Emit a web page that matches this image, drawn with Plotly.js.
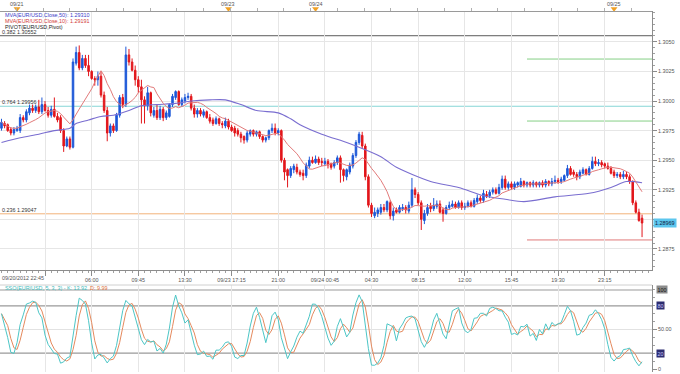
<!DOCTYPE html>
<html><head><meta charset="utf-8">
<script src="https://cdn.plot.ly/plotly-3.0.1.min.js"></script>
<style>html,body{margin:0;padding:0;background:#fff}#chart{width:680px;height:374px}</style>
</head><body><div id="chart"></div>
<script>
// ---- data (EUR/USD 15-minute bars) ----
const openP = [1.2977,1.2981,1.2980,1.2976,1.2973,1.2975,1.2975,1.2986,1.2984,1.2990,
1.2994,1.2992,1.2995,1.2991,1.2997,1.2992,1.2988,1.2993,1.2987,1.2986,
1.2975,1.2962,1.2968,1.2961,1.3032,1.3041,1.3028,1.3036,1.3030,1.3025,
1.3019,1.3018,1.3021,1.3005,1.2992,1.2973,1.2979,1.2975,1.2988,1.3003,
1.2997,1.3039,1.3033,1.3026,1.3018,1.3012,1.3001,1.2996,1.3007,1.2988,
1.2992,1.2986,1.2993,1.2986,1.2987,1.2997,1.3003,1.3008,1.2997,1.3000,
1.3003,1.3004,1.2994,1.2989,1.2992,1.2988,1.2991,1.2986,1.2984,1.2981,
1.2985,1.2981,1.2979,1.2983,1.2978,1.2977,1.2975,1.2972,1.2970,1.2967,
1.2972,1.2975,1.2972,1.2974,1.2970,1.2967,1.2969,1.2975,1.2977,1.2973,
1.2975,1.2950,1.2942,1.2937,1.2942,1.2944,1.2940,1.2939,1.2937,1.2945,
1.2950,1.2948,1.2951,1.2949,1.2947,1.2949,1.2947,1.2945,1.2948,1.2952,
1.2942,1.2936,1.2940,1.2945,1.2954,1.2965,1.2971,1.2962,1.2936,1.2912,
1.2903,1.2905,1.2906,1.2910,1.2908,1.2914,1.2903,1.2908,1.2906,1.2909,
1.2910,1.2907,1.2912,1.2925,1.2921,1.2914,1.2899,1.2905,1.2911,1.2909,
1.2911,1.2913,1.2908,1.2905,1.2910,1.2911,1.2913,1.2910,1.2914,1.2910,
1.2911,1.2914,1.2911,1.2915,1.2918,1.2916,1.2921,1.2920,1.2923,1.2925,
1.2922,1.2927,1.2934,1.2927,1.2930,1.2927,1.2929,1.2928,1.2932,1.2929,
1.2931,1.2929,1.2931,1.2929,1.2931,1.2929,1.2932,1.2930,1.2932,1.2933,
1.2932,1.2933,1.2937,1.2943,1.2940,1.2938,1.2936,1.2939,1.2942,1.2938,
1.2943,1.2949,1.2947,1.2948,1.2947,1.2945,1.2943,1.2940,1.2937,1.2938,
1.2936,1.2938,1.2936,1.2932,1.2914,1.2906,1.2901];
const highP = [1.2985,1.2983,1.2981,1.2978,1.2978,1.2979,1.2989,1.2988,1.2993,1.2997,
1.2997,1.2997,1.3001,1.3003,1.3000,1.2995,1.2996,1.3003,1.2990,1.2988,
1.2977,1.2970,1.2970,1.3036,1.3046,1.3047,1.3039,1.3039,1.3039,1.3026,
1.3021,1.3025,1.3025,1.3008,1.2995,1.2981,1.2981,1.2990,1.3005,1.3006,
1.3046,1.3044,1.3036,1.3030,1.3021,1.3018,1.3004,1.3012,1.3008,1.2995,
1.2997,1.2996,1.2995,1.2992,1.2998,1.3006,1.3009,1.3009,1.3003,1.3006,
1.3007,1.3006,1.2997,1.2994,1.2994,1.2993,1.2992,1.2989,1.2986,1.2987,
1.2986,1.2983,1.2986,1.2985,1.2980,1.2979,1.2977,1.2974,1.2971,1.2975,
1.2976,1.2976,1.2975,1.2975,1.2971,1.2970,1.2976,1.2981,1.2981,1.2977,
1.2976,1.2952,1.2943,1.2945,1.2947,1.2947,1.2942,1.2942,1.2948,1.2953,
1.2953,1.2954,1.2953,1.2952,1.2952,1.2951,1.2948,1.2950,1.2954,1.2954,
1.2943,1.2943,1.2948,1.2956,1.2967,1.2974,1.2974,1.2964,1.2938,1.2914,
1.2910,1.2910,1.2913,1.2913,1.2916,1.2916,1.2910,1.2910,1.2912,1.2913,
1.2912,1.2915,1.2935,1.2927,1.2923,1.2916,1.2908,1.2913,1.2914,1.2918,
1.2916,1.2916,1.2910,1.2912,1.2915,1.2916,1.2915,1.2916,1.2916,1.2914,
1.2916,1.2916,1.2918,1.2921,1.2920,1.2925,1.2924,1.2925,1.2927,1.2927,
1.2930,1.2937,1.2937,1.2932,1.2932,1.2932,1.2932,1.2935,1.2933,1.2932,
1.2932,1.2933,1.2932,1.2932,1.2933,1.2934,1.2933,1.2935,1.2937,1.2935,
1.2936,1.2938,1.2946,1.2945,1.2942,1.2940,1.2942,1.2944,1.2943,1.2945,
1.2953,1.2953,1.2951,1.2950,1.2948,1.2948,1.2945,1.2942,1.2940,1.2940,
1.2941,1.2940,1.2938,1.2933,1.2916,1.2909,1.2904];
const lowP = [1.2975,1.2977,1.2974,1.2971,1.2971,1.2974,1.2973,1.2982,1.2982,1.2988,
1.2990,1.2990,1.2989,1.2989,1.2991,1.2986,1.2986,1.2986,1.2982,1.2973,
1.2957,1.2961,1.2959,1.2960,1.3030,1.3026,1.3026,1.3028,1.3021,1.3018,
1.3013,1.3013,1.3003,1.2990,1.2966,1.2970,1.2973,1.2974,1.2986,1.2994,
1.2995,1.3030,1.3025,1.3013,1.3007,1.2981,1.2981,1.2992,1.2987,1.2986,
1.2984,1.2984,1.2983,1.2984,1.2986,1.2995,1.3001,1.2996,1.2995,1.2998,
1.3001,1.2992,1.2986,1.2986,1.2987,1.2986,1.2985,1.2981,1.2979,1.2980,
1.2979,1.2977,1.2977,1.2976,1.2974,1.2970,1.2970,1.2965,1.2964,1.2965,
1.2970,1.2970,1.2970,1.2968,1.2965,1.2965,1.2967,1.2973,1.2971,1.2971,
1.2948,1.2933,1.2927,1.2935,1.2939,1.2938,1.2936,1.2933,1.2935,1.2943,
1.2947,1.2947,1.2946,1.2945,1.2945,1.2943,1.2942,1.2943,1.2946,1.2931,
1.2932,1.2933,1.2938,1.2943,1.2952,1.2963,1.2960,1.2933,1.2910,1.2902,
1.2901,1.2902,1.2904,1.2906,1.2906,1.2900,1.2899,1.2905,1.2905,1.2907,
1.2905,1.2905,1.2910,1.2918,1.2912,1.2891,1.2896,1.2903,1.2906,1.2907,
1.2909,1.2905,1.2898,1.2904,1.2908,1.2910,1.2909,1.2909,1.2908,1.2908,
1.2910,1.2910,1.2910,1.2913,1.2914,1.2914,1.2918,1.2918,1.2921,1.2921,
1.2921,1.2925,1.2925,1.2925,1.2925,1.2925,1.2927,1.2927,1.2927,1.2927,
1.2927,1.2927,1.2927,1.2927,1.2927,1.2927,1.2928,1.2928,1.2930,1.2930,
1.2930,1.2932,1.2935,1.2937,1.2936,1.2933,1.2934,1.2938,1.2937,1.2937,
1.2942,1.2945,1.2945,1.2944,1.2943,1.2942,1.2938,1.2935,1.2935,1.2934,
1.2934,1.2934,1.2930,1.2912,1.2905,1.2898,1.2885];
const closeP = [1.2982,1.2979,1.2975,1.2973,1.2976,1.2977,1.2986,1.2984,1.2991,1.2994,
1.2992,1.2995,1.2991,1.2997,1.2992,1.2988,1.2993,1.2987,1.2984,1.2975,
1.2962,1.2968,1.2961,1.3033,1.3041,1.3028,1.3036,1.3030,1.3025,1.3019,
1.3018,1.3021,1.3005,1.2992,1.2973,1.2979,1.2975,1.2988,1.3003,1.2997,
1.3039,1.3033,1.3026,1.3018,1.3012,1.3001,1.2996,1.3007,1.2990,1.2992,
1.2986,1.2993,1.2986,1.2990,1.2997,1.3004,1.3008,1.2997,1.3001,1.3003,
1.3004,1.2994,1.2989,1.2992,1.2989,1.2991,1.2986,1.2983,1.2981,1.2985,
1.2981,1.2980,1.2983,1.2978,1.2975,1.2973,1.2972,1.2969,1.2967,1.2973,
1.2975,1.2972,1.2974,1.2970,1.2967,1.2969,1.2975,1.2977,1.2973,1.2975,
1.2950,1.2940,1.2937,1.2943,1.2945,1.2940,1.2938,1.2937,1.2946,1.2950,
1.2948,1.2951,1.2948,1.2948,1.2949,1.2946,1.2944,1.2948,1.2952,1.2942,
1.2937,1.2942,1.2946,1.2954,1.2965,1.2972,1.2962,1.2936,1.2912,1.2905,
1.2906,1.2908,1.2910,1.2908,1.2915,1.2903,1.2907,1.2906,1.2910,1.2910,
1.2908,1.2912,1.2925,1.2921,1.2914,1.2900,1.2905,1.2910,1.2909,1.2912,
1.2913,1.2906,1.2905,1.2910,1.2912,1.2913,1.2910,1.2914,1.2910,1.2911,
1.2914,1.2911,1.2916,1.2918,1.2916,1.2922,1.2920,1.2923,1.2925,1.2922,
1.2927,1.2934,1.2927,1.2930,1.2927,1.2930,1.2931,1.2932,1.2929,1.2931,
1.2929,1.2931,1.2929,1.2931,1.2929,1.2932,1.2930,1.2932,1.2933,1.2932,
1.2934,1.2937,1.2943,1.2938,1.2938,1.2936,1.2940,1.2942,1.2938,1.2943,
1.2949,1.2947,1.2948,1.2946,1.2945,1.2943,1.2939,1.2937,1.2938,1.2936,
1.2938,1.2936,1.2932,1.2914,1.2906,1.2899,1.28969];

const ma50Idx = [0,6,12,17,22,24,28,32,36,41,45,50,56,61,67,72,77,82,89,93,96,103,111,115,122,127,138,147,155,162,168,178,189,196,201,206];
const ma50Val = [1.2965,1.2969,1.2972,1.2975,1.2977,1.2981,1.2984,1.2987,1.2988,1.2992,1.2996,1.2997,1.2998,1.3000,1.3001,1.3001,1.2997,1.2992,1.2990,1.2985,1.2980,1.2972,1.2965,1.2961,1.2953,1.2944,1.2932,1.2927,1.2920,1.2917,1.2915,1.2919,1.2922,1.2927,1.2932,1.2931];

// axis labels
const majorTickIdx  = [14,29,44,59,74,89,104,119,134,149,164,179,194];
const majorTickText = ['','06:00','09:45','13:30','09/23 17:15','21:00','09/24 00:45','04:30','08:15','12:00','15:45','19:30','23:15'];
const startLabel = '09/20/2012 22:45';
const dateMarkIdx  = [5,73,101,197];
const dateMarkText = ['09/21','09/23','09/24','09/25'];
const priceTicks = [1.2875,1.2900,1.2925,1.2950,1.2975,1.3000,1.3025,1.3050];
const priceTickText = ['1.2875','','1.2925','1.2950','1.2975','1.3000','1.3025','1.3050']; // 1.2900 is covered by the last-price box

// study levels
const fibRatios = ['0.382','0.764','0.236'];
const fibLevels = [1.30552,1.29956,1.29047];
const fibColors = ['#5a5a5a','#86d6d6','#f2b27a'];
const pivotStartIdx = 169;
const pivotLevels = [1.30355,1.29831,1.28826];
const pivotColors = ['#86cf86','#86cf86','#e07a7a'];
const legendTexts = ['MVA(EUR/USD,Close,50): 1.29310','MVA(EUR/USD,Close,10): 1.29191','PIVOT(EUR/USD,Pivot)'];
const legendColors = ['#3b3bc8','#d23a3a','#222222'];
const stochLabel = ['SSO(EUR/USD, 5, 3, 3) - K: 13.92','D: 9.99'];
const stochLevels = [20,50,80,100];

// ---- derived series ----
const barIdx = closeP.map((_, i) => i);
function sma(arr, n) {
  return arr.map((_, i) => { const s = arr.slice(Math.max(0, i - n + 1), i + 1); return s.reduce((a, b) => a + b, 0) / s.length; });
}
const ma10 = sma(closeP, 10);
const fastK = closeP.map((c, i) => {
  const lo = Math.min(...lowP.slice(Math.max(0, i - 4), i + 1));
  const hi = Math.max(...highP.slice(Math.max(0, i - 4), i + 1));
  return hi > lo ? 100 * (c - lo) / (hi - lo) : 50;
});
const kLine = sma(fastK, 3);
const dLine = sma(kLine, 3);

// ---- geometry ----
const PH = 372; // paper height in px (margin.t 0, margin.b 2)
const py = px => (PH - px) / PH;
const xRange = [-0.48, 209.2];
const FONT = 'Liberation Sans, Arial, sans-serif';
const FS = 5.4;

const traces = [
  {type:'candlestick', x:barIdx, open:openP, high:highP, low:lowP, close:closeP, xaxis:'x', yaxis:'y',
   increasing:{line:{color:'#1d58d8', width:1}, fillcolor:'#1d58d8'},
   decreasing:{line:{color:'#e2161b', width:1}, fillcolor:'#e2161b'},
   whiskerwidth:0, hoverinfo:'skip', showlegend:false},
  {type:'scatter', mode:'lines', x:ma50Idx, y:ma50Val, xaxis:'x', yaxis:'y', line:{color:'#7a6ed0', width:1.1, shape:'spline', smoothing:0.8}, hoverinfo:'skip'},
  {type:'scatter', mode:'lines', x:barIdx, y:ma10, xaxis:'x', yaxis:'y', line:{color:'#e27a7a', width:1}, hoverinfo:'skip'},
  {type:'scatter', mode:'lines', x:barIdx, y:dLine, xaxis:'x2', yaxis:'y2', line:{color:'#e58a5e', width:1}, hoverinfo:'skip'},
  {type:'scatter', mode:'lines', x:barIdx, y:kLine, xaxis:'x2', yaxis:'y2', line:{color:'#4cc6c6', width:1}, hoverinfo:'skip'},
  {type:'scatter', mode:'markers', x:dateMarkIdx, y:dateMarkIdx.map(() => 0.2), xaxis:'x3', yaxis:'y3',
   marker:{symbol:'triangle-down', size:6, color:'#f0a024'}, hoverinfo:'skip'}
];

const shapes = [];
fibLevels.forEach((v, k) => shapes.push({type:'line', xref:'paper', x0:0, x1:1, yref:'y', y0:v, y1:v, line:{color:fibColors[k], width:1}, layer:'below'}));
pivotLevels.forEach((v, k) => shapes.push({type:'line', xref:'x', x0:pivotStartIdx, x1:xRange[1], yref:'y', y0:v, y1:v, line:{color:pivotColors[k], width:1}, layer:'below'}));
stochLevels.forEach(v => shapes.push({type:'line', xref:'paper', x0:0, x1:1, yref:'y2', y0:v, y1:v,
  line:{color: v === 50 ? '#e2e2e2' : '#9a9a9a', width: v === 50 ? 1 : 1.2}, layer:'below'}));
shapes.push({type:'line', xref:'paper', x0:0, x1:1, yref:'paper', y0:py(285), y1:py(285), line:{color:'#d0d0d0', width:1}});

const annotations = [];
legendTexts.forEach((t, k) => annotations.push({xref:'paper', yref:'paper', x:0.004, y:py(15 + 6 * k), xanchor:'left', yanchor:'middle',
  text:t, showarrow:false, font:{family:FONT, size:FS, color:legendColors[k]}}));
fibLevels.forEach((v, k) => annotations.push({xref:'paper', yref:'y', x:0, y:v, xanchor:'left', yanchor:'bottom', yshift:-1,
  text:fibRatios[k] + ' ' + v.toFixed(5), showarrow:false, font:{family:FONT, size:FS, color:'#333'}}));
dateMarkIdx.forEach((ix, k) => annotations.push({xref:'x3', yref:'paper', x:ix, y:py(4), xanchor:'center', yanchor:'middle',
  text:dateMarkText[k], showarrow:false, font:{family:FONT, size:FS, color:'#555'}}));
annotations.push({xref:'paper', yref:'paper', x:0, y:py(278), xanchor:'left', yanchor:'middle', text:startLabel, showarrow:false,
  font:{family:FONT, size:FS, color:'#555'}});
annotations.push({xref:'paper', yref:'paper', x:0.004, y:py(288), xanchor:'left', yanchor:'middle',
  text:'<span style="color:#3cbcbc">' + stochLabel[0] + '</span>  <span style="color:#e0703c">' + stochLabel[1] + '</span>',
  showarrow:false, font:{family:FONT, size:FS}});
const lastClose = closeP[closeP.length - 1];
annotations.push({xref:'paper', yref:'y', x:1, y:lastClose, xanchor:'left', yanchor:'middle', xshift:1,
  text:lastClose.toFixed(5), showarrow:false, bgcolor:'#5cc6ee', borderpad:1, font:{family:FONT, size:FS, color:'#102040'}});
[[100,'#8c8c8c','#111'],[80,'#2d2d70','#c8c8ff'],[20,'#2d2d70','#c8c8ff']].forEach(([v, bg, fg]) =>
  annotations.push({xref:'paper', yref:'y2', x:1, y:v, xanchor:'left', yanchor:'middle', xshift:4,
    text:String(v), showarrow:false, bgcolor:bg, borderpad:0.5, font:{family:FONT, size:FS, color:fg}}));

const gridC = '#e6e6e6';
const layout = {
  width:680, height:374, margin:{l:0, r:28, t:0, b:2, pad:0},
  paper_bgcolor:'#ffffff', plot_bgcolor:'#ffffff', showlegend:false,
  font:{family:FONT, size:FS, color:'#555'},
  xaxis:{domain:[0,1], anchor:'y', range:xRange, tickmode:'array', tickvals:majorTickIdx, ticktext:majorTickText,
    showgrid:true, gridcolor:gridC, zeroline:false, showline:true, linecolor:'#8c8c8c', ticks:'outside', ticklen:5, tickcolor:'#8c8c8c',
    tickfont:{family:FONT, size:FS, color:'#555'}, rangeslider:{visible:false},
    minor:{tickmode:'linear', tick0:0, dtick:2, ticks:'outside', ticklen:2, tickcolor:'#a0a0a0', showgrid:false}},
  yaxis:{domain:[py(270), py(11)], anchor:'x', side:'right', range:[1.28572, 1.30761], tickmode:'array', tickvals:priceTicks,
    ticktext:priceTickText, showgrid:true, gridcolor:gridC, zeroline:false, showline:true, linecolor:'#8c8c8c',
    ticks:'outside', ticklen:4, tickcolor:'#8c8c8c', tickfont:{family:FONT, size:FS, color:'#555'},
    minor:{tickmode:'linear', tick0:1.2875, dtick:0.0005, ticks:'outside', ticklen:2, tickcolor:'#a0a0a0', showgrid:false}},
  xaxis2:{domain:[0,1], anchor:'y2', range:xRange, tickmode:'array', tickvals:majorTickIdx, showticklabels:false,
    showgrid:true, gridcolor:gridC, zeroline:false, showline:false, ticks:''},
  yaxis2:{domain:[0, py(285)], anchor:'x2', side:'right', range:[-3.8, 106.3], tickmode:'array', tickvals:[0,50], ticktext:['0','50.00'],
    showgrid:false, zeroline:false, showline:true, linecolor:'#8c8c8c', ticks:'outside', ticklen:4, tickcolor:'#8c8c8c',
    tickfont:{family:FONT, size:FS, color:'#555'},
    minor:{tickmode:'linear', tick0:0, dtick:10, ticks:'outside', ticklen:2, tickcolor:'#a0a0a0', showgrid:false}},
  xaxis3:{domain:[0,1], anchor:'y3', range:xRange, showticklabels:false, showgrid:false, zeroline:false,
    showline:true, linecolor:'#9a9a9a', ticks:'inside', ticklen:3, tickcolor:'#b0b0b0', tickmode:'linear', tick0:13.4, dtick:8.6},
  yaxis3:{domain:[py(11), 1], anchor:'x3', range:[0,1], visible:false},
  shapes:shapes, annotations:annotations
};

Plotly.newPlot('chart', traces, layout, {staticPlot:true, displayModeBar:false});
</script>
</body></html>
